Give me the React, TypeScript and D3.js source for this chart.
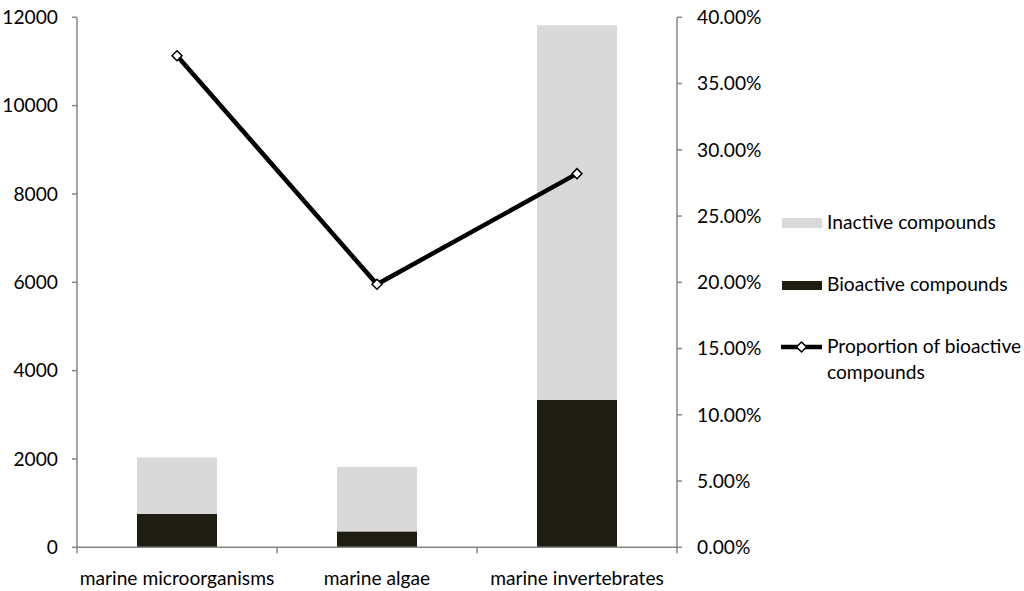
import React from "react";
import * as d3 from "d3";

const categories = ["marine microorganisms", "marine algae", "marine invertebrates"];
const bioactive = [755, 360, 3335];
const inactive = [1280, 1460, 8485];
const proportion = [0.371, 0.1985, 0.282];
const leftTicks = [0, 2000, 4000, 6000, 8000, 10000, 12000];
const rightTicks = [0, 0.05, 0.1, 0.15, 0.2, 0.25, 0.3, 0.35, 0.4];
const legendLabels = ["Inactive compounds", "Bioactive compounds", "Proportion of bioactive", "compounds"];

const W = 1024, H = 591;
const M = { left: 77, right: 677, top: 17.3, bottom: 547.3 };
const FONT = "Lato, 'Open Sans', sans-serif";
const FS = 19.2;
const AXIS = "#868686";
const LIGHT = "#d9d9d9";
const DARK = "#1f1c12";

export default function App() {
  const x = d3.scaleBand<string>().domain(categories).range([M.left, M.right]).paddingInner(0.6).paddingOuter(0.3);
  const band = d3.scaleBand<string>().domain(categories).range([M.left, M.right]);
  const y = d3.scaleLinear().domain([0, 12000]).range([M.bottom, M.top]);
  const yr = d3.scaleLinear().domain([0, 0.4]).range([M.bottom, M.top]);
  const fmt = (v: number) => (v * 100).toFixed(2) + "%";
  const line = d3.line<number>().x((_, i) => band(categories[i])! + band.bandwidth() / 2).y((d) => yr(d));
  const diamond = d3.symbol().type(d3.symbolDiamond2 || d3.symbolSquare).size(64);
  const boundaries = [...categories.map((c) => band(c)!), M.right];

  return (
    <svg width={W} height={H} style={{ position: "absolute", left: 0, top: 0, background: "#fff" }} fontFamily={FONT}>
      {categories.map((c, i) => (
        <g key={c}>
          <rect x={x(c)} width={x.bandwidth()} y={y(bioactive[i])} height={y(0) - y(bioactive[i])} fill={DARK} />
          <rect x={x(c)} width={x.bandwidth()} y={y(bioactive[i] + inactive[i])} height={y(bioactive[i]) - y(bioactive[i] + inactive[i])} fill={LIGHT} />
        </g>
      ))}
      <line x1={M.left} x2={M.left} y1={M.top} y2={M.bottom} stroke={AXIS} strokeWidth={1.5} />
      {leftTicks.map((t) => (
        <g key={t}>
          <line x1={M.left - 5} x2={M.left} y1={y(t)} y2={y(t)} stroke={AXIS} strokeWidth={1.5} />
          <text x={58} y={y(t)} dy="0.35em" textAnchor="end" fontSize={FS} fill="#000">{t}</text>
        </g>
      ))}
      <line x1={M.right} x2={M.right} y1={M.top} y2={M.bottom} stroke={AXIS} strokeWidth={1.5} />
      {rightTicks.map((t) => (
        <g key={t}>
          <line x1={M.right} x2={M.right + 5} y1={yr(t)} y2={yr(t)} stroke={AXIS} strokeWidth={1.5} />
          <text x={697} y={yr(t)} dy="0.35em" textAnchor="start" fontSize={FS} fill="#000">{fmt(t)}</text>
        </g>
      ))}
      <line x1={M.left} x2={M.right} y1={M.bottom} y2={M.bottom} stroke={AXIS} strokeWidth={1.5} />
      {boundaries.map((b, i) => (
        <line key={i} x1={b} x2={b} y1={M.bottom} y2={M.bottom + 6} stroke={AXIS} strokeWidth={1.5} />
      ))}
      {categories.map((c) => (
        <text key={c} x={band(c)! + band.bandwidth() / 2} y={578} dy="0.35em" textAnchor="middle" fontSize={FS} fill="#000">{c}</text>
      ))}
      <path d={line(proportion) || ""} fill="none" stroke="#000" strokeWidth={4.5} strokeLinejoin="miter" />
      {proportion.map((p, i) => (
        <path key={i} transform={`translate(${band(categories[i])! + band.bandwidth() / 2},${yr(p)})`} d={diamond() || ""} fill="#fff" stroke="#000" strokeWidth={1.5} />
      ))}
      <rect x={782} y={218} width={40} height={10} fill={LIGHT} />
      <text x={827} y={222} dy="0.35em" fontSize={FS}>{legendLabels[0]}</text>
      <rect x={782} y={281} width={40} height={9} fill={DARK} />
      <text x={827} y={284} dy="0.35em" fontSize={FS}>{legendLabels[1]}</text>
      <line x1={781} x2={822} y1={347} y2={347} stroke="#000" strokeWidth={4.5} />
      <path transform="translate(801.5,347)" d={diamond() || ""} fill="#fff" stroke="#000" strokeWidth={1.5} />
      <text x={827} y={346} dy="0.35em" fontSize={FS}>{legendLabels[2]}</text>
      <text x={827} y={372} dy="0.35em" fontSize={FS}>{legendLabels[3]}</text>
    </svg>
  );
}
